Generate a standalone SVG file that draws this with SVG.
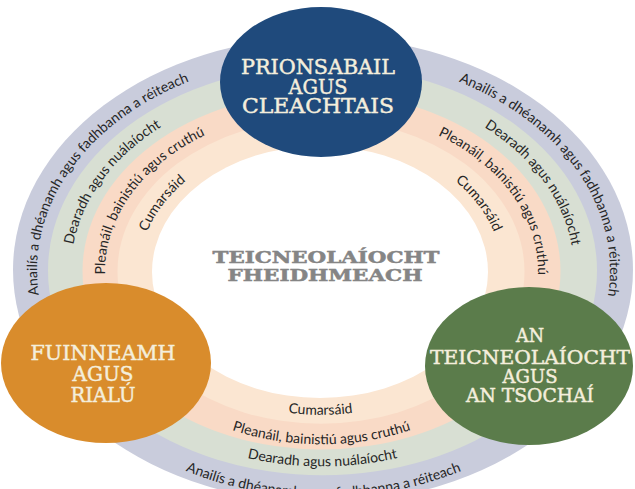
<svg xmlns="http://www.w3.org/2000/svg" width="635" height="489" viewBox="0 0 635 489">
<style>
.band{font-family:Lato,"Open Sans",sans-serif;font-size:14px;fill:#262626}
.ttl{font-family:"DejaVu Serif",serif;font-size:20px;text-anchor:middle}
.lt{fill:#f4eedc;stroke:#f4eedc;stroke-width:0.45}
.ctr{font-family:"DejaVu Serif",serif;font-weight:bold;font-size:16px;fill:#858585;stroke:#858585;stroke-width:0.5;text-anchor:middle}
</style>
<defs>
<path id="L1" d="M75.4 377.2 A286.5 213.9 0 0 1 323.5 56.35"/>
<path id="L2" d="M104.7 364.55 A251.5 187.6 0 0 1 322.5 83.15"/>
<path id="L3" d="M134 351.95 A216.5 161.4 0 0 1 321.5 109.85"/>
<path id="L4" d="M163.3 339.3 A181.5 135.1 0 0 1 320.5 136.65"/>
<path id="R1" d="M323.5 56.35 A286.5 213.9 0 0 1 571.6 377.2"/>
<path id="R2" d="M322.5 83.15 A251.5 187.6 0 0 1 540.3 364.55"/>
<path id="R3" d="M321.5 109.85 A216.5 161.4 0 0 1 509 351.95"/>
<path id="R4" d="M320.5 136.65 A181.5 135.1 0 0 1 477.7 339.3"/>
<path id="B1" d="M29 270.25 A294.5 227 0 0 0 323.5 497.25 A294.5 227 0 0 0 618 270.25"/>
<path id="B2" d="M63 270.75 A259.5 195.6 0 0 0 322.5 466.35 A259.5 195.6 0 0 0 582 270.75"/>
<path id="B3" d="M97 271.25 A224.5 173 0 0 0 321.5 444.25 A224.5 173 0 0 0 546 271.25"/>
<path id="B4" d="M131 271.75 A189.5 143.1 0 0 0 320.5 414.85 A189.5 143.1 0 0 0 510 271.75"/>
</defs>
<rect width="635" height="489" fill="#ffffff"/>
<g id="rings">
<ellipse cx="323" cy="270" rx="310" ry="233" fill="#c9ccdc"/>
<ellipse cx="322.5" cy="270.5" rx="274.5" ry="204.75" fill="#d8dfd3"/>
<ellipse cx="321.5" cy="271" rx="239" ry="178.5" fill="#f9dac6"/>
<ellipse cx="321" cy="271.5" rx="203.5" ry="152.25" fill="#fbe6d2"/>
<ellipse cx="320" cy="272" rx="168" ry="126" fill="#ffffff"/>
</g>
<g id="ring-labels" class="band">
<text><textPath href="#L1" startOffset="232" text-anchor="middle">Anailís a dhéanamh agus fadhbanna a réiteach</textPath></text>
<text><textPath href="#L2" startOffset="203.3" text-anchor="middle">Dearadh agus nuálaíocht</textPath></text>
<text><textPath href="#L3" startOffset="174.8" text-anchor="middle">Pleanáil, bainistiú agus cruthú</textPath></text>
<text><textPath href="#L4" startOffset="146.3" text-anchor="middle">Cumarsáid</textPath></text>
<text><textPath href="#R1" startOffset="279.5" text-anchor="middle">Anailís a dhéanamh agus fadhbanna a réiteach</textPath></text>
<text><textPath href="#R2" startOffset="245.5" text-anchor="middle">Dearadh agus nuálaíocht</textPath></text>
<text><textPath href="#R3" startOffset="211" text-anchor="middle">Pleanáil, bainistiú agus cruthú</textPath></text>
<text><textPath href="#R4" startOffset="176.8" text-anchor="middle">Cumarsáid</textPath></text>
<text><textPath href="#B1" startOffset="50%" text-anchor="middle">Anailís a dhéanamh agus fadhbanna a réiteach</textPath></text>
<text><textPath href="#B2" startOffset="50%" text-anchor="middle">Dearadh agus nuálaíocht</textPath></text>
<text><textPath href="#B3" startOffset="50%" text-anchor="middle">Pleanáil, bainistiú agus cruthú</textPath></text>
<text><textPath href="#B4" startOffset="50%" text-anchor="middle">Cumarsáid</textPath></text>
</g>
<g id="center-title">
<text class="ctr" x="326" y="263" textLength="227" lengthAdjust="spacingAndGlyphs">TEICNEOLAÍOCHT</text>
<text class="ctr" x="325" y="281" textLength="195" lengthAdjust="spacingAndGlyphs">FHEIDHMEACH</text>
</g>
<g id="node-prionsabail">
<ellipse cx="321" cy="82" rx="101" ry="75" fill="#1f4a7c"/>
<text class="ttl lt" x="318" y="74" textLength="154" lengthAdjust="spacingAndGlyphs">PRIONSABAIL</text>
<text class="ttl lt" x="318" y="94" textLength="59" lengthAdjust="spacingAndGlyphs">AGUS</text>
<text class="ttl lt" x="318" y="113" textLength="152" lengthAdjust="spacingAndGlyphs">CLEACHTAIS</text>
</g>
<g id="node-fuinneamh">
<ellipse cx="106" cy="363" rx="105" ry="80" fill="#d98c2c"/>
<text class="ttl lt" x="103" y="360" textLength="145" lengthAdjust="spacingAndGlyphs">FUINNEAMH</text>
<text class="ttl lt" x="103" y="381" textLength="61" lengthAdjust="spacingAndGlyphs">AGUS</text>
<text class="ttl lt" x="103" y="402" textLength="65" lengthAdjust="spacingAndGlyphs">RIALÚ</text>
</g>
<g id="node-tsochai">
<ellipse cx="529" cy="366" rx="104" ry="79" fill="#5b7c4b"/>
<text class="ttl lt" x="530" y="342" textLength="28" lengthAdjust="spacingAndGlyphs" style="font-size:18px">AN</text>
<text class="ttl lt" x="530" y="364" textLength="200" lengthAdjust="spacingAndGlyphs" style="font-size:18px">TEICNEOLAÍOCHT</text>
<text class="ttl lt" x="530" y="383" textLength="55" lengthAdjust="spacingAndGlyphs" style="font-size:18px">AGUS</text>
<text class="ttl lt" x="530" y="402" textLength="128" lengthAdjust="spacingAndGlyphs" style="font-size:18px">AN TSOCHAÍ</text>
</g>
</svg>
